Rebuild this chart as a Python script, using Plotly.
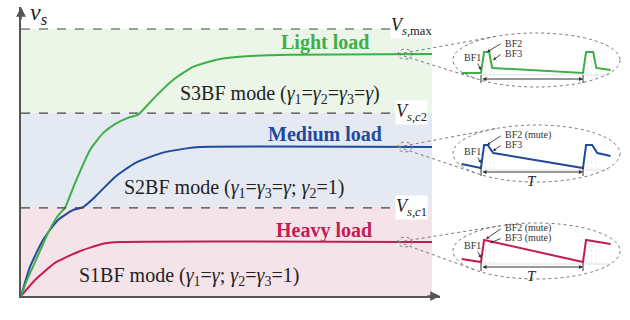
import math
import plotly.graph_objects as go

W, H = 630, 320
FONT = "Liberation Serif, Times New Roman, serif"

# ---------------- data ----------------
# Output voltage build-up (time in arbitrary units, voltage normalised to Vs,max)
time_light = [0.0, 0.146, 0.365, 0.657, 0.876, 0.998, 1.071, 1.314, 1.679, 1.995, 2.287,
              2.603, 2.847, 2.895, 3.260, 3.698, 4.185, 4.842, 5.572, 6.545, 10.0]
vs_light = [0.0, 0.060, 0.135, 0.236, 0.296, 0.318, 0.330, 0.423, 0.547, 0.610, 0.644,
            0.667, 0.678, 0.685, 0.745, 0.809, 0.858, 0.888, 0.899, 0.904, 0.906]

time_medium = [0.0, 0.219, 0.535, 0.900, 1.265, 1.509, 1.800, 2.287, 2.774, 3.431, 3.990, 4.355, 10.0]
vs_medium = [0.0, 0.109, 0.210, 0.285, 0.322, 0.333, 0.371, 0.446, 0.498, 0.536, 0.552, 0.558, 0.558]

time_heavy = [0.0, 0.341, 0.827, 1.387, 1.971, 2.409, 10.0]
vs_heavy = [0.0, 0.060, 0.124, 0.165, 0.195, 0.202, 0.202]

# Threshold levels
V_C1, V_C2, V_MAX = 0.330, 0.685, 1.0
T_END = 10.0

# Steady-state ripple waveforms over one period T (time in units of T)
ripple_t_light = [-0.19, 0.0, 0.03, 0.08, 0.11, 1.0, 1.03, 1.10, 1.13, 1.27]
ripple_v_light = [0.0, 0.0, 1.0, 1.0, 0.24, 0.0, 1.0, 1.0, 0.24, 0.14]
ripple_t_medium = [-0.19, 0.0, 0.03, 0.065, 0.12, 1.0, 1.03, 1.09, 1.14, 1.27]
ripple_v_medium = [0.17, 0.0, 1.0, 1.0, 0.65, 0.0, 1.0, 1.0, 0.65, 0.52]
ripple_t_heavy = [-0.19, 0.0, 0.03, 1.0, 1.03, 1.27]
ripple_v_heavy = [0.14, 0.0, 1.0, 0.0, 1.0, 0.82]

labels_light = ["BF1", "BF2", "BF3"]
labels_medium = ["BF1", "BF2 (mute)", "BF3"]
labels_heavy = ["BF1", "BF2 (mute)", "BF3 (mute)"]

GREEN, BLUE, RED = "#3DAF48", "#1F4A9E", "#C41A56"
BAND_GREEN, BAND_BLUE, BAND_RED = "#EBF5E8", "#E5E9F2", "#F5E3EA"
AXIS = "#555555"
DASH = "#444444"

# ---------------- main axes geometry (pixels) ----------------
X0, X_END = 21, 440      # origin and arrow tip of the time axis
Y0, Y_TOP = 296, 7       # origin and arrow tip of the voltage axis
PX_T = 41.1              # pixels per time unit
PX_V = 267.0             # pixels per voltage unit


def mx(px):
    return (px - X0) / PX_T


def my(py):
    return (Y0 - py) / PX_V


def paper(px, py):
    return px / W, 1 - py / H


fig = go.Figure()

# load curves
for t, v, c in [(time_heavy, vs_heavy, RED), (time_medium, vs_medium, BLUE),
                (time_light, vs_light, GREEN)]:
    fig.add_trace(go.Scatter(x=t, y=v, mode="lines",
                             line=dict(color=c, width=2, shape="spline", smoothing=0.5),
                             hoverinfo="skip", showlegend=False, xaxis="x", yaxis="y"))

shapes = []
# operating-mode bands
for y0, y1, col in [(0, V_C1, BAND_RED), (V_C1, V_C2, BAND_BLUE), (V_C2, V_MAX, BAND_GREEN)]:
    shapes.append(dict(type="rect", xref="x", yref="y", x0=0, x1=T_END, y0=y0, y1=y1,
                       fillcolor=col, line=dict(width=0), layer="below"))
# threshold lines
for lvl in [V_C1, V_C2, V_MAX]:
    shapes.append(dict(type="line", xref="x", yref="y", x0=0, x1=mx(394), y0=lvl, y1=lvl,
                       line=dict(color=DASH, width=1.2, dash="dash"), layer="above"))

annotations = []
# axis arrowheads
annotations.append(dict(x=mx(X_END), y=0, xref="x", yref="y", ax=-14, ay=0, text="",
                        showarrow=True, arrowhead=2, arrowsize=1.3, arrowwidth=1.5,
                        arrowcolor=AXIS))
annotations.append(dict(x=0, y=my(Y_TOP), xref="x", yref="y", ax=0, ay=14, text="",
                        showarrow=True, arrowhead=2, arrowsize=1.3, arrowwidth=1.5,
                        arrowcolor=AXIS))


def text(px, py, s, size, color="#222222", anchor="center", bg=None):
    d = dict(x=mx(px), y=my(py), xref="x", yref="y", text=s, showarrow=False,
             xanchor=anchor, yanchor="middle",
             font=dict(family=FONT, size=size, color=color))
    if bg:
        d.update(bgcolor=bg, borderpad=0)
    annotations.append(d)


text(28, 14, "<i>v</i><sub><i>s</i></sub>", 24, anchor="left")
text(424, 309, "Time", 17)
text(390, 27, "<i>V</i><sub><i>s</i>,max</sub>", 18, anchor="left", bg="white")
text(395, 112, "<i>V</i><sub><i>s</i>,<i>c</i>2</sub>", 18, anchor="left", bg="white")
text(395, 207, "<i>V</i><sub><i>s</i>,<i>c</i>1</sub>", 18, anchor="left", bg="white")

text(325, 43, "<b>Light load</b>", 20, GREEN)
text(325, 134, "<b>Medium load</b>", 20, BLUE)
text(324, 230, "<b>Heavy load</b>", 20, RED)

g = "<i>γ</i>"
text(280, 94, f"S3BF mode ({g}<sub>1</sub>={g}<sub>2</sub>={g}<sub>3</sub>={g})", 20)
text(234, 188, f"S2BF mode ({g}<sub>1</sub>={g}<sub>3</sub>={g}; {g}<sub>2</sub>=1)", 20)
text(189, 276, f"S1BF mode ({g}<sub>1</sub>={g}; {g}<sub>2</sub>={g}<sub>3</sub>=1)", 20)

# ---------------- ripple insets ----------------
IX0, IX1 = 453, 620       # inset ellipse left/right (pixels)
T_PX0, T_PX = 481, 102    # pixel of t=0 and pixels per period
insets = [
    dict(t=ripple_t_light, v=ripple_v_light, c=GREEN, lab=labels_light, plateau=vs_light[-1],
         base=73, h=21, top=33, bot=87, bf1=57, bf2=43, bf3=53.5,
         h1=(481, 70), h2=(487, 52), h3=(493, 60), tarr=79, tlab=88),
    dict(t=ripple_t_medium, v=ripple_v_medium, c=BLUE, lab=labels_medium, plateau=vs_medium[-1],
         base=168, h=23, top=125, bot=182, bf1=151, bf2=135, bf3=144.5,
         h1=(481, 163), h2=(487, 145), h3=(493, 151), tarr=172, tlab=181),
    dict(t=ripple_t_heavy, v=ripple_v_heavy, c=RED, lab=labels_heavy, plateau=vs_heavy[-1],
         base=262, h=22, top=223, bot=279, bf1=245, bf2=228, bf3=238,
         h1=(481, 258), h2=(486, 239), h3=(490, 243), tarr=267, tlab=276),
]

layout_axes = {}
for i, ins in enumerate(insets):
    k = i + 2
    xa, ya = f"x{k}", f"y{k}"
    base, h = ins["base"], ins["h"]

    def ix(px):
        return (px - T_PX0) / T_PX

    def iy(py, base=base, h=h):
        return (base - py) / h

    layout_axes[f"xaxis{k}"] = dict(domain=[IX0 / W, IX1 / W], range=[ix(IX0), ix(IX1)],
                                    visible=False, anchor=ya, fixedrange=True)
    layout_axes[f"yaxis{k}"] = dict(domain=[1 - ins["bot"] / H, 1 - ins["top"] / H],
                                    range=[iy(ins["bot"]), iy(ins["top"])],
                                    visible=False, anchor=xa, fixedrange=True)

    # faint baseline and sub-interval markers
    shapes.append(dict(type="line", xref=xa, yref=ya, x0=0, x1=ins["t"][-1],
                       y0=iy(base + 2), y1=iy(base + 2),
                       line=dict(color="#e2e2e2", width=1), layer="below"))
    for tt in [0.045, 0.085, 0.125, 1.045, 1.085, 1.125]:
        shapes.append(dict(type="line", xref=xa, yref=ya, x0=tt, x1=tt, y0=iy(base + 2), y1=0.85,
                           line=dict(color="#e6e6e6", width=0.8, dash="dot"), layer="below"))

    fig.add_trace(go.Scatter(x=ins["t"], y=ins["v"], mode="lines",
                             line=dict(color=ins["c"], width=2), hoverinfo="skip",
                             showlegend=False, xaxis=xa, yaxis=ya))

    # big dotted ellipse
    shapes.append(dict(type="circle", xref="paper", yref="paper",
                       x0=IX0 / W, x1=IX1 / W, y0=1 - ins["bot"] / H, y1=1 - ins["top"] / H,
                       line=dict(color="#777777", width=1, dash="dot")))
    # small ellipse around the plateau
    cx_px = 405
    py_plateau = Y0 - ins["plateau"] * PX_V
    shapes.append(dict(type="circle", xref="x", yref="y",
                       x0=mx(cx_px - 7), x1=mx(cx_px + 7),
                       y0=ins["plateau"] - 5 / PX_V, y1=ins["plateau"] + 5 / PX_V,
                       line=dict(color="#777777", width=1, dash="dot")))
    # tangent lines from the small ellipse to the big one
    ecx, ecy = (IX0 + IX1) / 2, (ins["top"] + ins["bot"]) / 2
    erx, ery = (IX1 - IX0) / 2, (ins["bot"] - ins["top"]) / 2
    p = (cx_px - 7, py_plateau)
    ux, uy = (p[0] - ecx) / erx, (p[1] - ecy) / ery
    d = math.hypot(ux, uy)
    ang = math.atan2(uy, ux)
    a = math.acos(1 / d)
    for s in (-1, 1):
        qx = ecx + erx * math.cos(ang + s * a)
        qy = ecy + ery * math.sin(ang + s * a)
        x0p, y0p = paper(*p)
        x1p, y1p = paper(qx, qy)
        shapes.append(dict(type="line", xref="paper", yref="paper", x0=x0p, y0=y0p, x1=x1p, y1=y1p,
                           line=dict(color="#777777", width=1, dash="dot")))

    # BF labels with leader arrows
    lab_font = dict(family=FONT, size=10, color="#333333")
    rows = [(462, ins["bf1"], ins["h1"], (477, ins["bf1"] + 5)),
            (503, ins["bf2"], ins["h2"], (502, ins["bf2"])),
            (503, ins["bf3"], ins["h3"], (502, ins["bf3"]))]
    for lab, (lx, ly, head, tail) in zip(ins["lab"], rows):
        annotations.append(dict(x=ix(lx), y=iy(ly), xref=xa, yref=ya, text=lab, showarrow=False,
                                xanchor="left", yanchor="middle", font=lab_font))
        annotations.append(dict(x=ix(head[0]), y=iy(head[1]), xref=xa, yref=ya, text="",
                                ax=ix(tail[0]), ay=iy(tail[1]), axref=xa, ayref=ya,
                                showarrow=True, arrowhead=2, arrowsize=0.7, arrowwidth=0.9,
                                arrowcolor="#333333"))
    # period marker
    ta = iy(ins["tarr"])
    annotations.append(dict(x=1, y=ta, xref=xa, yref=ya, text="", ax=0, ay=ta, axref=xa, ayref=ya,
                            showarrow=True, arrowhead=2, arrowside="end+start", arrowsize=0.8,
                            arrowwidth=1, arrowcolor="#333333"))
    for tt in (0, 1):
        shapes.append(dict(type="line", xref=xa, yref=ya, x0=tt, x1=tt,
                           y0=iy(ins["tarr"] - 4), y1=iy(ins["tarr"] + 4),
                           line=dict(color="#333333", width=1)))
    annotations.append(dict(x=0.5, y=iy(ins["tlab"]), xref=xa, yref=ya, text="<i>T</i>",
                            showarrow=False, font=dict(family=FONT, size=15, color="#222222")))

fig.update_layout(
    width=W, height=H, margin=dict(l=0, r=0, t=0, b=0),
    paper_bgcolor="white", plot_bgcolor="rgba(0,0,0,0)",
    showlegend=False,
    xaxis=dict(domain=[X0 / W, X_END / W], range=[0, mx(X_END)], showline=True, linecolor=AXIS,
               linewidth=1.5, showgrid=False, zeroline=False, showticklabels=False, ticks="",
               fixedrange=True),
    yaxis=dict(domain=[1 - Y0 / H, 1 - Y_TOP / H], range=[0, my(Y_TOP)], showline=True,
               linecolor=AXIS, linewidth=1.5, showgrid=False, zeroline=False,
               showticklabels=False, ticks="", fixedrange=True),
    shapes=shapes, annotations=annotations,
    **layout_axes,
)

fig.write_html("out.html")
